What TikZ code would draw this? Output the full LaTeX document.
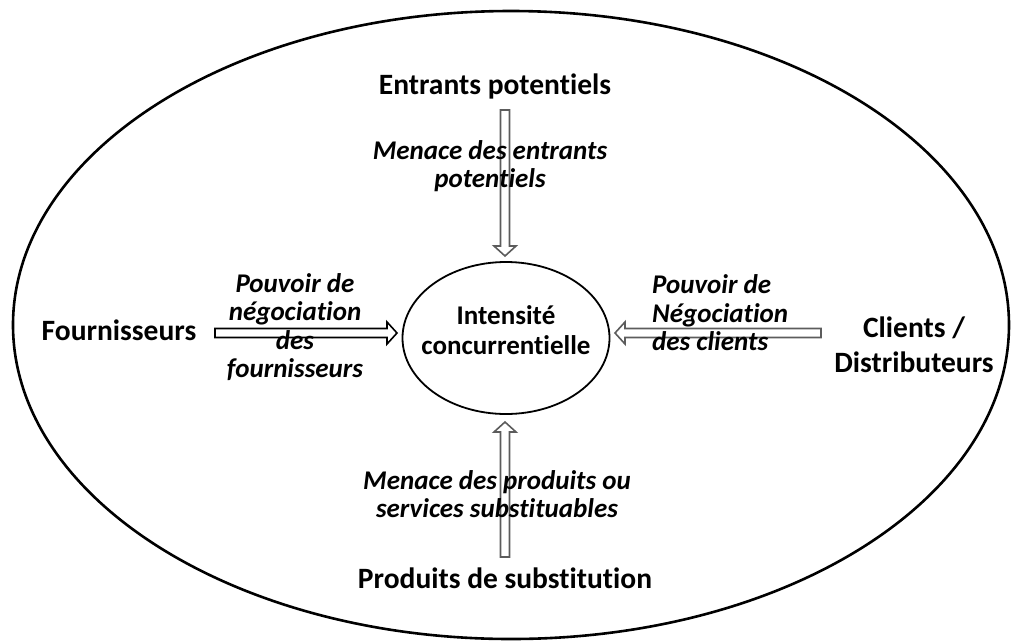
\documentclass[tikz,border=0pt]{standalone}
\usepackage{fontspec}
\setmainfont{Carlito}[Ligatures={NoCommon,NoRare,NoDiscretionary}]
\usetikzlibrary{calc,shapes.geometric}

% hollow block arrow from coordinate #2 to tip coordinate #3
\newcommand\hollowarrow[3][]{%
  \coordinate (hb) at ($(#3)!10pt!(#2)$);
  \draw[blockarrow,#1]
    ($(#2)!4.5pt!90:(#3)$) -- ($(hb)!4.5pt!-90:(#2)$) -- ($(hb)!11pt!-90:(#2)$) --
    (#3) -- ($(hb)!11pt!90:(#2)$) -- ($(hb)!4.5pt!90:(#2)$) --
    ($(#2)!4.5pt!-90:(#3)$) -- cycle;
}

\tikzset{
  force/.style={font=\bfseries\fontsize{29.5}{35}\selectfont, align=center, inner sep=0pt},
  threat/.style={font=\bfseries\itshape\fontsize{27}{28.5}\selectfont, align=center, inner sep=0pt},
  corestyle/.style={font=\bfseries\fontsize{27}{30}\selectfont, align=center, inner sep=0pt},
  blockarrow/.style={draw=arrowgray, fill=white, line width=1.6pt, line join=miter},
}
\definecolor{arrowgray}{HTML}{5C5C5C}

\begin{document}
\begin{tikzpicture}[x=1pt, y=-1pt]
  \useasboundingbox (0,0) rectangle (1013,641);

  % market boundary
  \draw[line width=2.6pt] (511,325) ellipse [x radius=498, y radius=314];

  % central rivalry
  \node[ellipse, draw, line width=1.8pt, minimum width=207pt, minimum height=152pt] (core) at (506,338) {};
  \node[corestyle] (coretext) at (506,330) {Intensité\\concurrentielle};

  % the four forces
  \node[force] (entrants) at (495,86) {Entrants potentiels};
  \node[force] (fourn) at (119,330) {Fournisseurs};
  \node[force] (clients) at (914,345) {Clients /\\Distributeurs};
  \node[force] (subst) at (505,578) {Produits de substitution};

  % arrow ends
  \coordinate (nS) at (505,110);  \coordinate (nT) at (505,256);
  \coordinate (wS) at (215,333);  \coordinate (wT) at (397,333);
  \coordinate (eS) at (821,333);  \coordinate (eT) at (615,333);
  \coordinate (sS) at (505,557);  \coordinate (sT) at (505,422);

  \hollowarrow{nS}{nT}
  \hollowarrow[draw=black]{wS}{wT}
  \hollowarrow{eS}{eT}
  \hollowarrow{sS}{sT}

  % threat labels
  \node[threat] (tn) at (490,166) {Menace des entrants\\potentiels};
  \node[threat] (tw) at (295,327) {Pouvoir de\\négociation\\des\\fournisseurs};
  \node[threat, align=left, anchor=west] (te) at (652,313) {Pouvoir de\\Négociation\\des clients};
  \node[threat] (ts) at (497,494) {Menace des produits ou\\services substituables};
\end{tikzpicture}
\end{document}
